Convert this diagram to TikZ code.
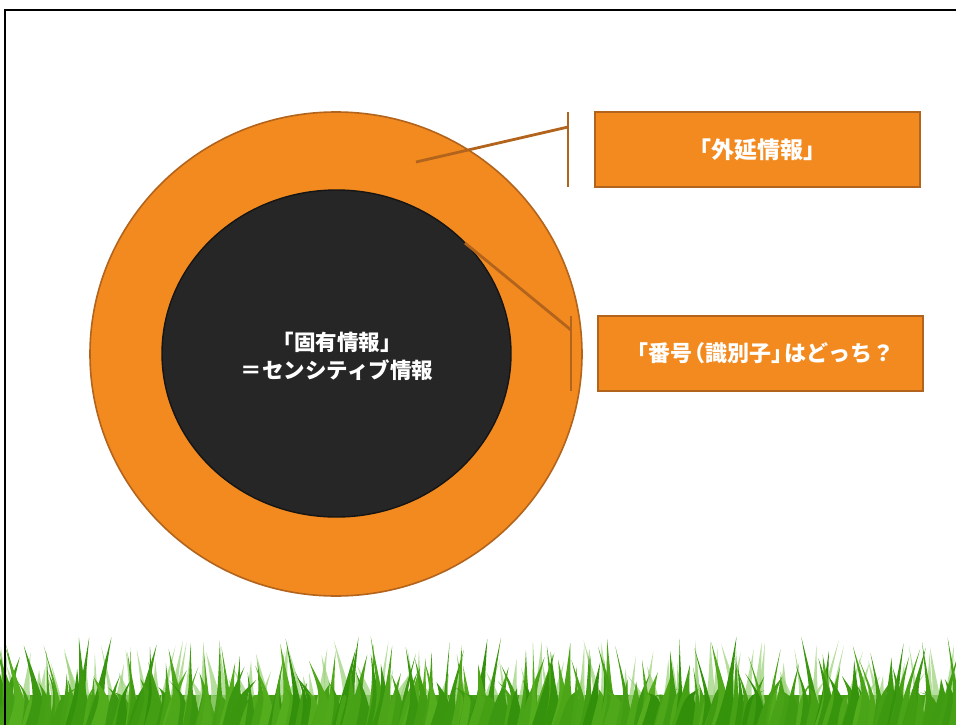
\documentclass[tikz,border=0pt]{standalone}
\usepackage{fontspec}
\usetikzlibrary{shapes.geometric}
\newfontfamily\jp{Noto Sans CJK JP}
\begin{document}
\definecolor{ringfill}{HTML}{F28A1F}
\definecolor{ringedge}{HTML}{B3641C}
\definecolor{corefill}{HTML}{262626}
\definecolor{coreedge}{HTML}{151515}
\definecolor{grassA}{HTML}{2E8C08}
\definecolor{grassB}{HTML}{66BC26}
\definecolor{grassC}{HTML}{9FD47E}
\begin{tikzpicture}[x=1pt,y=-1pt,
  ring/.style={ellipse,draw=ringedge,fill=ringfill,line width=1.6pt,inner sep=0pt},
  core/.style={ellipse,draw=coreedge,fill=corefill,line width=1.4pt,inner sep=0pt},
  labelbox/.style={draw=ringedge,fill=ringfill,line width=1.6pt,minimum width=325pt,minimum height=75pt,inner sep=0pt,
    text=white,font=\jp\bfseries\fontsize{22}{28}\selectfont},
  leader/.style={draw=ringedge,line width=2.8pt}]
\useasboundingbox (0,0) rectangle (956,725);
\fill[white] (0,0) rectangle (956,725);

% concentric rings
\node[ring,minimum width=492pt,minimum height=484pt] (outer) at (336,354) {};
\node[core,minimum width=349pt,minimum height=327pt] (inner) at (336.5,353.5) {};
\node[text=white,font=\jp\bfseries\fontsize{21.5}{28}\selectfont,align=center] (innertext) at (337,356)
  {「固有情報」\\＝センシティブ情報};

% label boxes
\node[labelbox,font=\jp\bfseries\fontsize{23}{28}\selectfont] (ext) at (757.5,149.5) {「外延情報」};
\node[labelbox] (num) at (760.5,353.5) {「番号\kern-0.4em（識別子」\kern-0.4em はどっち？};

% callout leaders
\coordinate (p1) at (416,162);
\coordinate (b1) at (568,127);
\coordinate (b1t) at (568,112);
\coordinate (b1b) at (568,187);
\draw[leader] (p1) -- (b1);
\draw[leader] (b1t) -- (b1b);

\coordinate (p2) at (465,243);
\coordinate (b2) at (571,330);
\coordinate (b2t) at (571,316);
\coordinate (b2b) at (571,391);
\draw[leader] (p2) -- (b2);
\draw[leader] (b2t) -- (b2b);

% grass along the bottom edge
\pgfmathsetseed{11}
\fill[grassA!60!grassB] (0,695) rectangle (956,726);
\foreach \i in {0,...,110}{
  \pgfmathsetmacro\bx{9*\i+10*rnd-5}
  \pgfmathsetmacro\bw{6+7*rnd}
  \pgfmathsetmacro\bt{640+40*rnd}
  \pgfmathsetmacro\bl{30*rnd-15}
  \fill[grassC,opacity=0.75] (\bx-\bw,726) .. controls (\bx-0.3*\bw,695) .. (\bx+\bl,\bt) .. controls (\bx+0.3*\bw,695) .. (\bx+\bw,726) -- cycle;
}
\foreach \i in {0,...,200}{
  \pgfmathsetmacro\bx{4.8*\i+8*rnd-4}
  \pgfmathsetmacro\bw{5+9*rnd}
  \pgfmathsetmacro\bt{636+60*rnd}
  \pgfmathsetmacro\bl{30*rnd-15}
  \pgfmathtruncatemacro\sh{30+65*rnd}
  \fill[grassA!\sh!grassB] (\bx-\bw,726) .. controls (\bx-0.25*\bw,696) .. (\bx+\bl,\bt) .. controls (\bx+0.25*\bw,696) .. (\bx+\bw,726) -- cycle;
}

% slide frame
\draw[line width=2.2pt,black] (5,730) -- (5,10) -- (962,10);
\end{tikzpicture}
\end{document}
